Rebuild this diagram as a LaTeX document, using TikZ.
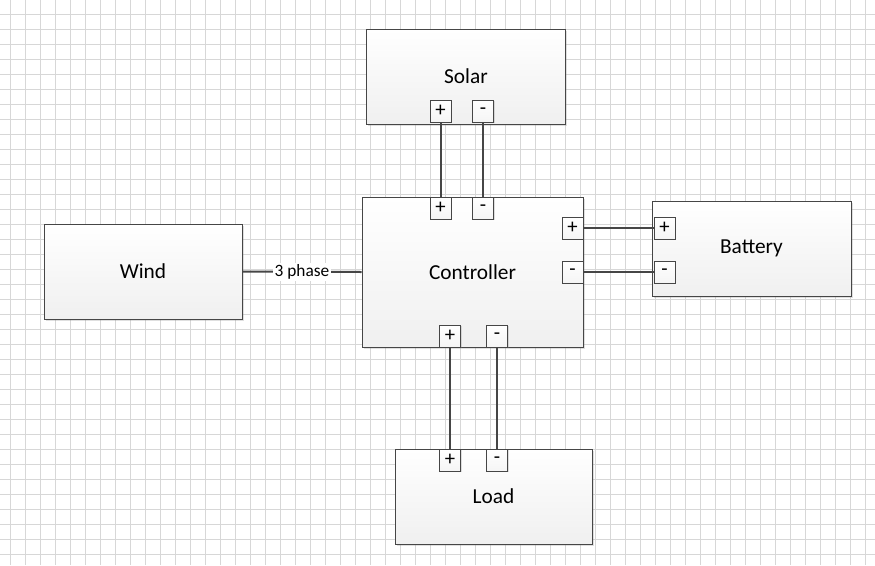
\documentclass[tikz,border=0pt]{standalone}
\usepackage{fontspec}
\setmainfont{Carlito}
\usetikzlibrary{shadows}
\definecolor{gridc}{RGB}{215,215,215}
\definecolor{edgec}{RGB}{70,70,70}
\definecolor{wirec}{RGB}{70,70,70}
\tikzset{
  unitbox/.style 2 args={draw=edgec, line width=0.75pt, rectangle, inner sep=0pt,
    minimum width=#1*0.75pt, minimum height=#2*0.75pt,
    top color=white, bottom color=gray!12,
    drop shadow={shadow xshift=1.2pt, shadow yshift=-1.2pt, opacity=0.25, fill=gray},
    font=\fontsize{16}{19}\selectfont},
  port/.style={draw=edgec, line width=0.75pt, rectangle, inner sep=0pt,
    minimum width=15.75pt, minimum height=16.5pt, fill=white,
    top color=white, bottom color=gray!8,
    drop shadow={shadow xshift=1pt, shadow yshift=-1pt, opacity=0.25, fill=gray},
    font=\fontsize{15.5}{17}\selectfont},
  wire/.style={draw=wirec, line width=1.5pt},
  lbl/.style={fill=white, inner sep=1pt, font=\fontsize{13}{15}\selectfont}
}
\begin{document}
\begin{tikzpicture}[x=0.75pt, y=-0.75pt]
\useasboundingbox (0,0) rectangle (875,565);
\fill[white] (0,0) rectangle (875,565);
% grid
\foreach \gx in {10,25,...,875} \draw[gridc, line width=0.6pt] (\gx,0) -- (\gx,565);
\foreach \gy in {14,29,...,565} \draw[gridc, line width=0.6pt] (0,\gy) -- (875,\gy);

% boxes
\node[unitbox={199}{95}] (solar) at (466,76.5) {Solar};
\node[unitbox={221}{150}] (ctrl) at (472.5,272) {Controller};
\node[unitbox={198}{95}] (wind) at (143,271.5) {Wind};
\node[unitbox={199}{95}] (batt) at (751.5,248.5) {Battery};
\node[unitbox={197}{95}] (load) at (493.5,496.5) {Load};

% ports
\node[port] (sp) at (440.5,111) {+};
\node[port] (sm) at (483,111) {-};
\node[port] (ctp) at (440.5,208) {+};
\node[port] (ctm) at (483,208) {-};
\node[port] (crp) at (572.5,228) {+};
\node[port] (crm) at (572.5,272) {-};
\node[port] (bp) at (664.5,228) {+};
\node[port] (bm) at (664.5,272) {-};
\node[port] (cbp) at (450,336) {+};
\node[port] (cbm) at (497,336) {-};
\node[port] (lp) at (450,460) {+};
\node[port] (lm) at (497,460) {-};

% wires
\draw[wire] (sp.south) -- (ctp.north);
\draw[wire] (sm.south) -- (ctm.north);
\draw[wire] (crp.east) -- (bp.west);
\draw[wire] (crm.east) -- (bm.west);
\draw[wire] (cbp.south) -- (lp.north);
\draw[wire] (cbm.south) -- (lm.north);
\draw[wire] (wind.east) -- node[lbl] {3 phase} (ctrl.west);
\end{tikzpicture}
\end{document}
